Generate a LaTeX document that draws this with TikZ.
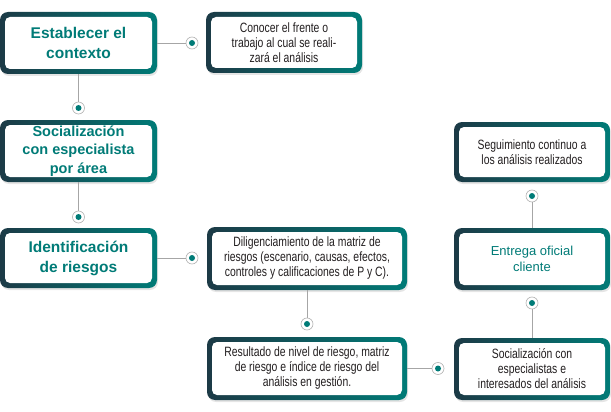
\documentclass[tikz,border=0pt]{standalone}
\usepackage{fontspec}
\setmainfont{Liberation Sans}
\newfontfamily\condfont[FakeStretch=0.77]{Liberation Sans}
\definecolor{pteal}{HTML}{007B77}
\definecolor{pdark}{HTML}{1C3A46}
\definecolor{ptext}{HTML}{231F20}
\tikzset{
  pbody/.style={font=\condfont\fontsize{13.5}{15}\selectfont, text=ptext, align=center},
  phead/.style={font=\bfseries\fontsize{15.5}{19.5}\selectfont, text=pteal, align=center},
  plink/.style={draw=black!35, line width=0.7pt},
  pdot/.style={circle, draw=black!30, line width=0.6pt, fill=white, minimum size=12pt,
    inner sep=0pt, path picture={\fill[pteal] (path picture bounding box.center) circle (3pt);}}
}
\newcommand{\pbox}[7]{%
  \fill[black!10, rounded corners=8pt] ({#2+1},{#3+2}) rectangle ({#4+1},{#5+2});
  \shade[left color=pdark, right color=pteal, rounded corners=8pt] (#2,#3) rectangle (#4,#5);
  \fill[white, rounded corners=5pt] ({#2+5},{#3+5}) rectangle ({#4-5},{#5-5});
  \node[#6, inner sep=0pt, minimum width={#4-#2}, minimum height={#5-#3}]
    (#1) at ({(#2+#4)/2},{(#3+#5)/2}) {#7};}
\newcommand{\pdot}[3]{\node[pdot] (#1) at (#2,#3) {};}

\begin{document}
\begin{tikzpicture}[x=1pt,y=-1pt]
  \useasboundingbox (0,0) rectangle (611,412);
  \pbox{b1}{0}{12}{157}{74}{phead}{Establecer el\\contexto}
  \pbox{b2}{206}{12}{362}{73}{pbody}{Conocer el frente o\\trabajo al cual se reali-\\zará el análisis}
  \pbox{b3}{0}{120}{157}{182}{phead, font=\bfseries\fontsize{14.5}{18.3}\selectfont}{Socialización\\con especialista\\por área}
  \pbox{b4}{0}{228}{157}{288}{phead, font=\bfseries\fontsize{15.5}{20}\selectfont}{Identificación\\de riesgos}
  \pbox{b5}{207}{227}{407}{290}{pbody}{Diligenciamiento de la matriz de\\riesgos (escenario, causas, efectos,\\controles y calificaciones de P y C).}
  \pbox{b6}{207}{337}{407}{400}{pbody}{Resultado de nivel de riesgo, matriz\\de riesgo e índice de riesgo del\\análisis en gestión.}
  \pbox{b7}{454}{338}{610}{400}{pbody}{Socialización con\\especialistas e\\interesados del análisis}
  \pbox{b8}{454}{228}{610}{290}{phead, font=\fontsize{13}{16}\selectfont}{Entrega oficial\\cliente}
  \pbox{b9}{454}{122}{610}{182}{pbody}{Seguimiento continuo a\\los análisis realizados}
  \pdot{d1}{192}{43}
  \pdot{d2}{78.5}{108}
  \pdot{d3}{78.5}{217}
  \pdot{d4}{192}{258}
  \pdot{d5}{307}{324}
  \pdot{d6}{438}{368.5}
  \pdot{d7}{532}{303}
  \pdot{d8}{532}{196}
  \draw[plink] (b1) -- (d1);
  \draw[plink] (b1) -- (d2);
  \draw[plink] (b3) -- (d3);
  \draw[plink] (b4) -- (d4);
  \draw[plink] (b5) -- (d5);
  \draw[plink] (b6) -- (d6);
  \draw[plink] (b7) -- (d7);
  \draw[plink] (b8) -- (d8);
\end{tikzpicture}
\end{document}
